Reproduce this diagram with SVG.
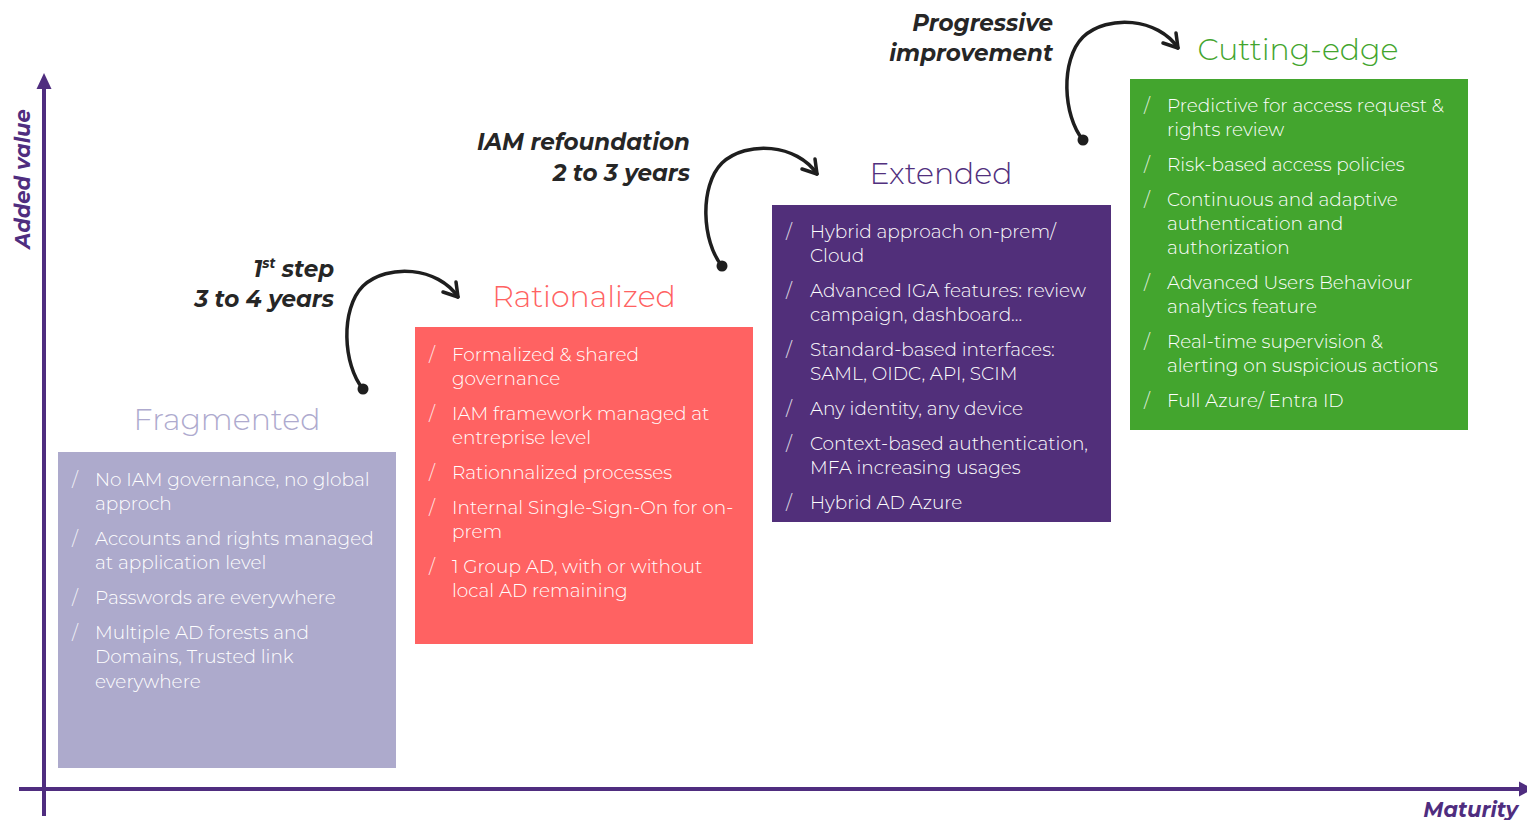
<svg xmlns="http://www.w3.org/2000/svg" width="1527" height="820" viewBox="0 0 1527 820">
  <style>
    .axis { stroke: #4f2d7f; stroke-width: 4; fill: none; }
    .axis-head { fill: #4f2d7f; }
    .axis-label { font-family: Montserrat, "Open Sans", "Liberation Sans", sans-serif; font-weight: 700; font-style: italic; font-size: 21px; fill: #4f2d7f; }
    .step { font-family: Montserrat, "Open Sans", "Liberation Sans", sans-serif; font-weight: 700; font-style: italic; font-size: 23px; fill: #262626; text-anchor: end; }
    .title { font-family: Montserrat, "Open Sans", "Liberation Sans", sans-serif; font-weight: 300; font-size: 30px; text-anchor: middle; }
    .item { font-family: Montserrat, "Open Sans", "Liberation Sans", sans-serif; font-weight: 300; font-size: 18.5px; fill: #ffffff; }
    .bullet { font-family: Montserrat, "Open Sans", "Liberation Sans", sans-serif; font-weight: 300; font-size: 18.5px; fill: #ffffff; opacity: 0.85; }
    .curve { stroke: #1e1e1e; stroke-width: 3.5; fill: none; stroke-linecap: round; stroke-linejoin: round; }
  </style>
  <defs>
    <!-- curved step arrow, origin at the starting dot -->
    <g id="step-arrow">
      <path class="curve" d="M0,0 C-20,-24 -23,-80 0,-103 C25,-126 75,-122 95,-92"/>
      <path class="curve" d="M93,-107 L95,-92 L80,-97"/>
      <circle cx="0" cy="0" r="5.5" fill="#1e1e1e"/>
    </g>
  </defs>

  <rect width="1527" height="820" fill="#ffffff"/>

  <!-- axes -->
  <g id="axes">
    <line class="axis" x1="44" y1="816" x2="44" y2="86"/>
    <polygon class="axis-head" points="44,73 36.5,89 51.5,89"/>
    <line class="axis" x1="19" y1="789" x2="1522" y2="789"/>
    <polygon class="axis-head" points="1533,789 1519,781.5 1519,796.5"/>
    <text class="axis-label" transform="translate(30,179) rotate(-90)" text-anchor="middle">Added value</text>
    <text class="axis-label" x="1518" y="817" text-anchor="end">Maturity</text>
  </g>

  <!-- connectors between stages -->
  <g id="connectors">
    <use href="#step-arrow" transform="translate(363,389)"/>
    <use href="#step-arrow" transform="translate(722,266)"/>
    <use href="#step-arrow" transform="translate(1083,140)"/>
    <text class="step" x="334" y="277">1<tspan font-size="13.5" dy="-9">st</tspan><tspan dy="9"> step</tspan></text>
    <text class="step" x="334" y="307">3 to 4 years</text>
    <text class="step" x="690" y="150">IAM refoundation</text>
    <text class="step" x="690" y="181">2 to 3 years</text>
    <text class="step" x="1053" y="31">Progressive</text>
    <text class="step" x="1053" y="61">improvement</text>
  </g>

  <!-- stage 1 -->
  <g id="fragmented">
    <text class="title" x="227" y="430" fill="#aeaace">Fragmented</text>
    <rect x="58" y="452" width="338" height="316" fill="#adaacc"/>
    <text class="bullet" x="72" y="486">/</text>
    <text class="item" x="95" y="486">No IAM governance, no global</text>
    <text class="item" x="95" y="510">approch</text>
    <text class="bullet" x="72" y="545">/</text>
    <text class="item" x="95" y="545">Accounts and rights managed</text>
    <text class="item" x="95" y="569">at application level</text>
    <text class="bullet" x="72" y="604">/</text>
    <text class="item" x="95" y="604">Passwords are everywhere</text>
    <text class="bullet" x="72" y="639">/</text>
    <text class="item" x="95" y="639">Multiple AD forests and</text>
    <text class="item" x="95" y="663">Domains, Trusted link</text>
    <text class="item" x="95" y="688">everywhere</text>
  </g>

  <!-- stage 2 -->
  <g id="rationalized">
    <text class="title" x="584" y="307" fill="#ff6262">Rationalized</text>
    <rect x="415" y="327" width="338" height="317" fill="#ff6262"/>
    <text class="bullet" x="429" y="361">/</text>
    <text class="item" x="452" y="361">Formalized &amp; shared</text>
    <text class="item" x="452" y="385">governance</text>
    <text class="bullet" x="429" y="420">/</text>
    <text class="item" x="452" y="420">IAM framework managed at</text>
    <text class="item" x="452" y="444">entreprise level</text>
    <text class="bullet" x="429" y="479">/</text>
    <text class="item" x="452" y="479">Rationnalized processes</text>
    <text class="bullet" x="429" y="514">/</text>
    <text class="item" x="452" y="514">Internal Single-Sign-On for on-</text>
    <text class="item" x="452" y="538">prem</text>
    <text class="bullet" x="429" y="573">/</text>
    <text class="item" x="452" y="573">1 Group AD, with or without</text>
    <text class="item" x="452" y="597">local AD remaining</text>
  </g>

  <!-- stage 3 -->
  <g id="extended">
    <text class="title" x="941" y="184" fill="#51307e">Extended</text>
    <rect x="772" y="205" width="339" height="317" fill="#512f7a"/>
    <text class="bullet" x="786" y="238">/</text>
    <text class="item" x="810" y="238">Hybrid approach on-prem/</text>
    <text class="item" x="810" y="262">Cloud</text>
    <text class="bullet" x="786" y="297">/</text>
    <text class="item" x="810" y="297">Advanced IGA features: review</text>
    <text class="item" x="810" y="321">campaign, dashboard...</text>
    <text class="bullet" x="786" y="356">/</text>
    <text class="item" x="810" y="356">Standard-based interfaces:</text>
    <text class="item" x="810" y="380">SAML, OIDC, API, SCIM</text>
    <text class="bullet" x="786" y="415">/</text>
    <text class="item" x="810" y="415">Any identity, any device</text>
    <text class="bullet" x="786" y="450">/</text>
    <text class="item" x="810" y="450">Context-based authentication,</text>
    <text class="item" x="810" y="474">MFA increasing usages</text>
    <text class="bullet" x="786" y="509">/</text>
    <text class="item" x="810" y="509">Hybrid AD Azure</text>
  </g>

  <!-- stage 4 -->
  <g id="cutting-edge">
    <text class="title" x="1298" y="60" fill="#43a52e">Cutting-edge</text>
    <rect x="1130" y="79" width="338" height="351" fill="#43a52e"/>
    <text class="bullet" x="1144" y="112">/</text>
    <text class="item" x="1167" y="112">Predictive for access request &amp;</text>
    <text class="item" x="1167" y="136">rights review</text>
    <text class="bullet" x="1144" y="171">/</text>
    <text class="item" x="1167" y="171">Risk-based access policies</text>
    <text class="bullet" x="1144" y="206">/</text>
    <text class="item" x="1167" y="206">Continuous and adaptive</text>
    <text class="item" x="1167" y="230">authentication and</text>
    <text class="item" x="1167" y="254">authorization</text>
    <text class="bullet" x="1144" y="289">/</text>
    <text class="item" x="1167" y="289">Advanced Users Behaviour</text>
    <text class="item" x="1167" y="313">analytics feature</text>
    <text class="bullet" x="1144" y="348">/</text>
    <text class="item" x="1167" y="348">Real-time supervision &amp;</text>
    <text class="item" x="1167" y="372">alerting on suspicious actions</text>
    <text class="bullet" x="1144" y="407">/</text>
    <text class="item" x="1167" y="407">Full Azure/ Entra ID</text>
  </g>
</svg>
